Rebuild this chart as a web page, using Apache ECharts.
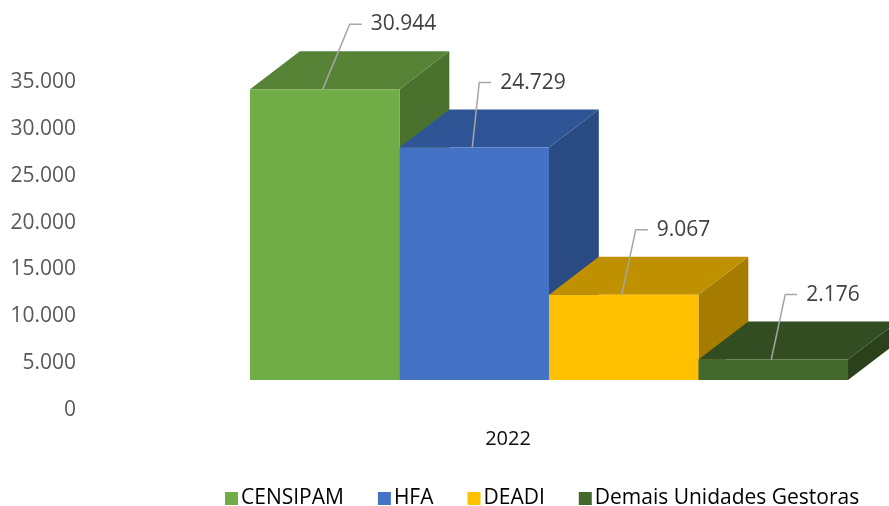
<!DOCTYPE html>
<html>
<head>
<meta charset="utf-8">
<script src="https://cdn.jsdelivr.net/npm/echarts@6/dist/echarts.min.js"></script>
<style>html,body{margin:0;padding:0;background:#fff}#c{width:889px;height:506px}</style>
</head>
<body>
<div id="c"></div>
<script>
const years = ['2022'];
const categories = ['CENSIPAM', 'HFA', 'DEADI', 'Demais Unidades Gestoras'];
const values = [30944, 24729, 9067, 2176];
const yTicks = [0, 5000, 10000, 15000, 20000, 25000, 30000, 35000];

// styling (not data)
const frontColors = ['#70AD47', '#4472C4', '#FFC000', '#43682B'];
const topColors   = ['#568336', '#2F5597', '#BF9000', '#324D21'];
const sideColors  = ['#4A722E', '#2A4A82', '#A67C00', '#2A411C'];
const labelDX = [27, 7, 14, 14];

const FONT = '"Open Sans", sans-serif';
function fmt(v) { return String(v).replace(/\B(?=(\d{3})+(?!\d))/g, '.'); }

const chart = echarts.init(document.getElementById('c'), null, { renderer: 'canvas' });

function makeRender(idx) {
  return function (params, api) {
    const i = api.value(0), v = api.value(1);
    const top = api.coord([i, v]);
    const base = api.coord([i, 0]);
    const bw = api.size([1, 0])[0];
    const dx = bw / 3, dy = bw * 0.254;
    const x0 = top[0] - bw / 2, x1 = top[0] + bw / 2;
    const yt = top[1], yb = base[1];
    const cx = top[0] - 2;
    const lx = cx + labelDX[idx], ly = yt - 65;
    return {
      type: 'group',
      children: [
        { type: 'polygon', shape: { points: [[x1, yt], [x1 + dx, yt - dy], [x1 + dx, yb - dy], [x1, yb]] },
          style: { fill: sideColors[idx] } },
        { type: 'polygon', shape: { points: [[x0, yt], [x0 + dx, yt - dy], [x1 + dx, yt - dy], [x1, yt]] },
          style: { fill: topColors[idx] } },
        { type: 'rect', shape: { x: x0, y: yt, width: bw, height: yb - yt },
          style: { fill: frontColors[idx] } },
        { type: 'polyline', shape: { points: [[cx, yt], [lx, ly], [lx + 12, ly]] },
          style: { stroke: '#A6A6A6', lineWidth: 1.5, fill: null } },
        { type: 'text', x: lx + 21, y: ly,
          style: { text: fmt(v), fill: '#404040', font: '21px ' + FONT, verticalAlign: 'middle', align: 'left' } }
      ]
    };
  };
}

const series = categories.map((name, idx) => ({
  name: name,
  type: 'custom',
  xAxisIndex: 1,
  yAxisIndex: 1,
  itemStyle: { color: frontColors[idx] },
  renderItem: makeRender(idx),
  encode: { x: 0, y: 1 },
  data: [[idx, values[idx]]],
  clip: false
}));

chart.setOption({
  animation: false,
  textStyle: { fontFamily: FONT },
  legend: {
    left: 220, top: 483,
    itemWidth: 13, itemHeight: 13, itemGap: 34,
    icon: 'rect',
    textStyle: { fontSize: 21, color: '#000', fontFamily: FONT, padding: [0, 0, 0, -2] },
    data: categories
  },
  grid: [
    { left: 128, top: 82, width: 760, height: 328 },
    { left: 250, top: 51, width: 598, height: 329 }
  ],
  xAxis: [
    { type: 'category', gridIndex: 0, data: years,
      axisLine: { show: false }, axisTick: { show: false },
      axisLabel: { margin: 19, fontSize: 20, color: '#0D0D0D', fontFamily: FONT } },
    { type: 'category', gridIndex: 1, data: categories, show: false }
  ],
  yAxis: [
    { type: 'value', gridIndex: 0, min: yTicks[0], max: yTicks[yTicks.length - 1], interval: yTicks[1] - yTicks[0],
      axisLine: { show: false }, axisTick: { show: false }, splitLine: { show: false },
      axisLabel: { margin: 52, fontSize: 21, color: '#595959', fontFamily: FONT, formatter: v => fmt(v) } },
    { type: 'value', gridIndex: 1, min: yTicks[0], max: yTicks[yTicks.length - 1], show: false }
  ],
  series: series
});
</script>
</body>
</html>
